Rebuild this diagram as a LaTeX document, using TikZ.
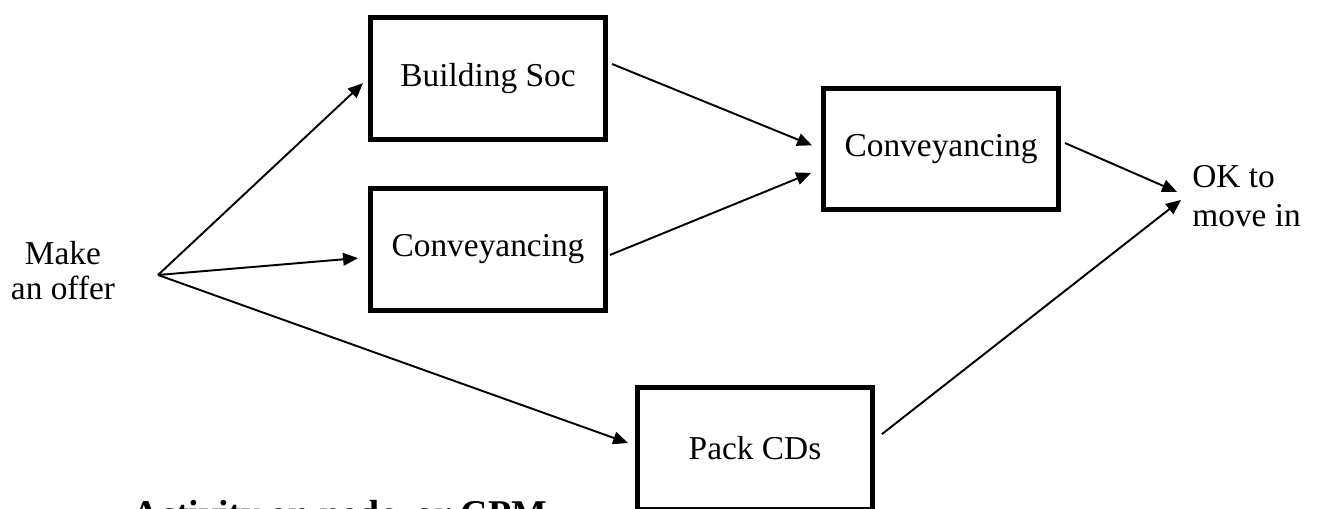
\documentclass[tikz,border=0pt]{standalone}
\usepackage{fontspec}
\setmainfont{Liberation Serif}
\usetikzlibrary{arrows.meta}

\begin{document}
\begin{tikzpicture}[x=0.02cm, y=-0.02cm,
    font=\fontsize{19}{20}\selectfont,
    act/.style={draw, line width=2.85pt, minimum width=4.7cm, minimum height=2.44cm, inner sep=0pt},
    lnk/.style={line width=1.1pt, -{Triangle[length=8.5pt,width=7.2pt]}}]
  \useasboundingbox (0,0) rectangle (1326,509);
  \clip (0,0) rectangle (1326,509);
  \node[act]                          (a0) at (488,78.5)  {Building Soc};
  \node[act]                          (a1) at (488,249.5) {Conveyancing};
  \node[act]                          (a2) at (941,149)   {Conveyancing};
  \node[act]                          (a3) at (755,448.5) {Pack CDs};
  \node[align=center, inner sep=0pt]  (s0) at (63,271)    {Make\\an offer};
  \coordinate                         (s1) at (158,275);
  \node[align=left, inner sep=0pt, anchor=west, font=\fontsize{19}{22}\selectfont]
                                      (f0) at (1192,196)  {OK to\\move in};
  \node[anchor=base west, inner sep=0pt, font=\fontsize{21.5}{24}\selectfont\bfseries]
                                      (t0) at (132,527)   {Activity on node, or CPM};
  \draw [lnk, shorten >=3.9pt] (s1) -- (a0.west);
  \draw [lnk, shorten >=5.7pt] (s1) -- ([yshift=-4.4pt]a1.west);
  \draw [lnk, shorten >=4.2pt] (s1) -- ([yshift=1.7pt]a3.west);
  \draw [lnk, shorten <=2.5pt, shorten >=5.5pt] ([yshift=9.2pt]a0.east) -- (a2.west);
  \draw [lnk, shorten <=1.2pt, shorten >=6.1pt] ([yshift=-3.6pt]a1.east) -- ([yshift=-11.3pt]a2.west);
  \draw [lnk, shorten <=2.5pt, shorten >=9.3pt] ([yshift=4.4pt]a2.east) -- ([yshift=-1.4pt]f0.west);
  \draw [lnk, shorten <=5pt, shorten >=7.9pt] ([yshift=5.1pt]a3.east) -- ([yshift=2.6pt]f0.west);
\end{tikzpicture}
\end{document}
